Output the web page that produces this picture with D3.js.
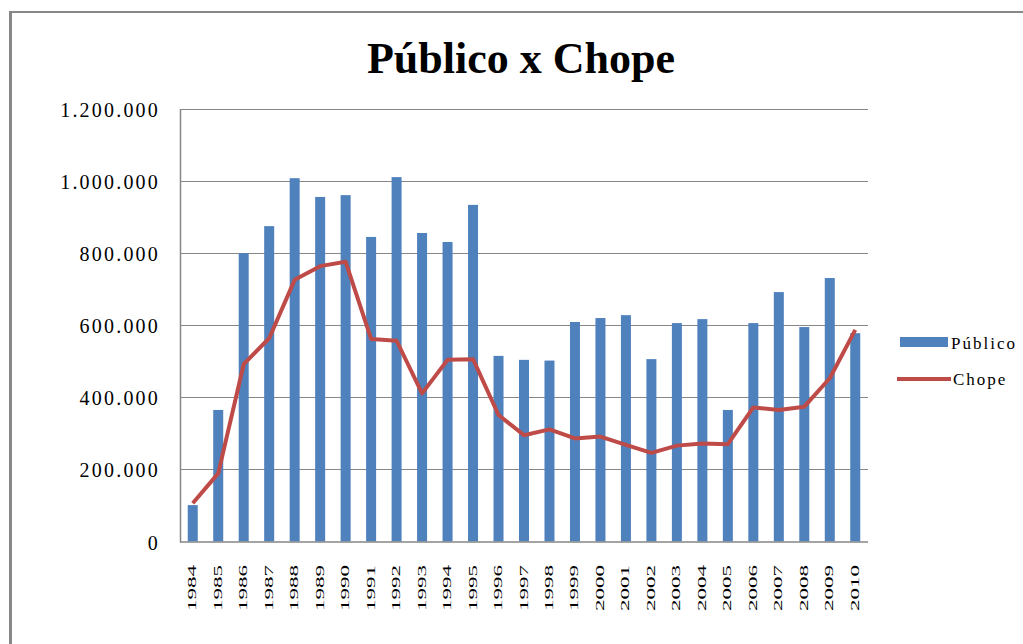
<!DOCTYPE html>
<html>
<head>
<meta charset="utf-8">
<script src="https://cdn.jsdelivr.net/npm/d3@7"></script>
<style>
  html, body { margin: 0; padding: 0; background: #fff; }
  svg { display: block; }
</style>
</head>
<body>
<script>
let w = 1023;
let h = 644;

// data
let years = ['1984', '1985', '1986', '1987', '1988', '1989', '1990', '1991', '1992',
  '1993', '1994', '1995', '1996', '1997', '1998', '1999', '2000', '2001', '2002',
  '2003', '2004', '2005', '2006', '2007', '2008', '2009', '2010'];
let publico = [101000, 365000, 800000, 875000, 1008000, 956000, 961000, 845000, 1011000,
  856000, 831000, 934000, 515000, 504000, 502000, 609000, 620000, 628000, 506000,
  606000, 617000, 365000, 606000, 692000, 595000, 731000, 578000];
let chope = [106000, 189000, 492000, 564000, 726000, 764000, 776000, 562000, 557000,
  411000, 504000, 506000, 351000, 295000, 311000, 286000, 291000, 268000, 246000,
  266000, 272000, 270000, 372000, 365000, 374000, 453000, 587000];
let yTicks = [0, 200000, 400000, 600000, 800000, 1000000, 1200000];
let seriesNames = ['Público', 'Chope'];

let plot = { left: 180, right: 868, top: 109, bottom: 541.5 };
let barColor = '#4F81BD';
let lineColor = '#BE4B48';
let gridColor = '#868686';
let serif = "'Liberation Serif', 'Times New Roman', serif";

let fmt = (v) => d3.format(',')(v).replace(/,/g, '.');

let xScale = d3.scaleBand()
  .domain(years)
  .range([plot.left, plot.right]);
let yScale = d3.scaleLinear()
  .domain([0, 1200000])
  .range([plot.bottom, plot.top]);

let svg = d3.select('body')
  .append('svg')
  .attr('width', w)
  .attr('height', h);

// outer chart frame (only top and left edges are visible)
svg.append('line')
  .attr('x1', 10).attr('x2', w)
  .attr('y1', 12).attr('y2', 12)
  .attr('stroke', '#888').attr('stroke-width', 2);
svg.append('line')
  .attr('x1', 10.5).attr('x2', 10.5)
  .attr('y1', 11).attr('y2', h)
  .attr('stroke', '#888').attr('stroke-width', 3);

// title
svg.append('text')
  .attr('x', 521)
  .attr('y', 73)
  .attr('text-anchor', 'middle')
  .attr('font-family', serif)
  .attr('font-weight', 'bold')
  .attr('font-size', '44px')
  .text('Público x Chope');

// gridlines
svg.selectAll('.grid')
  .data(yTicks.slice(1))
  .enter()
  .append('line')
  .attr('class', 'grid')
  .attr('x1', plot.left)
  .attr('x2', plot.right)
  .attr('y1', (d) => { return Math.round(yScale(d)) + 0.5; })
  .attr('y2', (d) => { return Math.round(yScale(d)) + 0.5; })
  .attr('stroke', gridColor)
  .attr('stroke-width', 1);

// y labels
svg.selectAll('.ylab')
  .data(yTicks)
  .enter()
  .append('text')
  .attr('class', 'ylab')
  .attr('x', 160)
  .attr('y', (d) => { return yScale(d) + 8; })
  .attr('text-anchor', 'end')
  .attr('font-family', serif)
  .attr('font-size', '20px')
  .attr('letter-spacing', '2.2px')
  .text(fmt);

// bars
let barW = 10;
svg.selectAll('.bar')
  .data(publico)
  .enter()
  .append('rect')
  .attr('class', 'bar')
  .attr('x', (d, i) => { return xScale(years[i]) + xScale.bandwidth() / 2 - barW / 2; })
  .attr('y', (d) => { return yScale(d); })
  .attr('width', barW)
  .attr('height', (d) => { return plot.bottom - yScale(d); })
  .attr('fill', barColor);

// axes lines
svg.append('line')
  .attr('x1', plot.left + 0.5).attr('x2', plot.left + 0.5)
  .attr('y1', plot.top).attr('y2', plot.bottom + 1)
  .attr('stroke', gridColor).attr('stroke-width', 1.5);
svg.append('line')
  .attr('x1', plot.left).attr('x2', plot.right)
  .attr('y1', plot.bottom + 0.5).attr('y2', plot.bottom + 0.5)
  .attr('stroke', gridColor).attr('stroke-width', 1.5);

// Chope line
let line = d3.line()
  .x((d, i) => { return xScale(years[i]) + xScale.bandwidth() / 2; })
  .y((d) => { return yScale(d); });
svg.append('path')
  .datum(chope)
  .attr('d', line)
  .attr('fill', 'none')
  .attr('stroke', lineColor)
  .attr('stroke-width', 4)
  .attr('stroke-linejoin', 'round');

// x labels, rotated
svg.selectAll('.xlab')
  .data(years)
  .enter()
  .append('text')
  .attr('class', 'xlab')
  .attr('transform', (d) => {
    return 'translate(' + (xScale(d) + xScale.bandwidth() / 2 + 3.5) + ',565) rotate(-90)';
  })
  .attr('text-anchor', 'end')
  .attr('font-family', serif)
  .attr('font-size', '12.5px')
  .attr('textLength', 46)
  .attr('lengthAdjust', 'spacingAndGlyphs')
  .text((d) => { return d; });

// legend
let legend = svg.append('g');
legend.append('rect')
  .attr('x', 900).attr('y', 337)
  .attr('width', 48).attr('height', 10)
  .attr('fill', barColor);
legend.append('line')
  .attr('x1', 897).attr('x2', 951)
  .attr('y1', 379).attr('y2', 379)
  .attr('stroke', lineColor).attr('stroke-width', 4);
legend.selectAll('text')
  .data(seriesNames)
  .enter()
  .append('text')
  .attr('x', (d, i) => { return i === 0 ? 951 : 953; })
  .attr('y', (d, i) => { return i === 0 ? 349 : 385; })
  .attr('font-family', serif)
  .attr('font-size', '17px')
  .attr('letter-spacing', '2px')
  .text((d) => { return d; });
</script>
</body>
</html>
